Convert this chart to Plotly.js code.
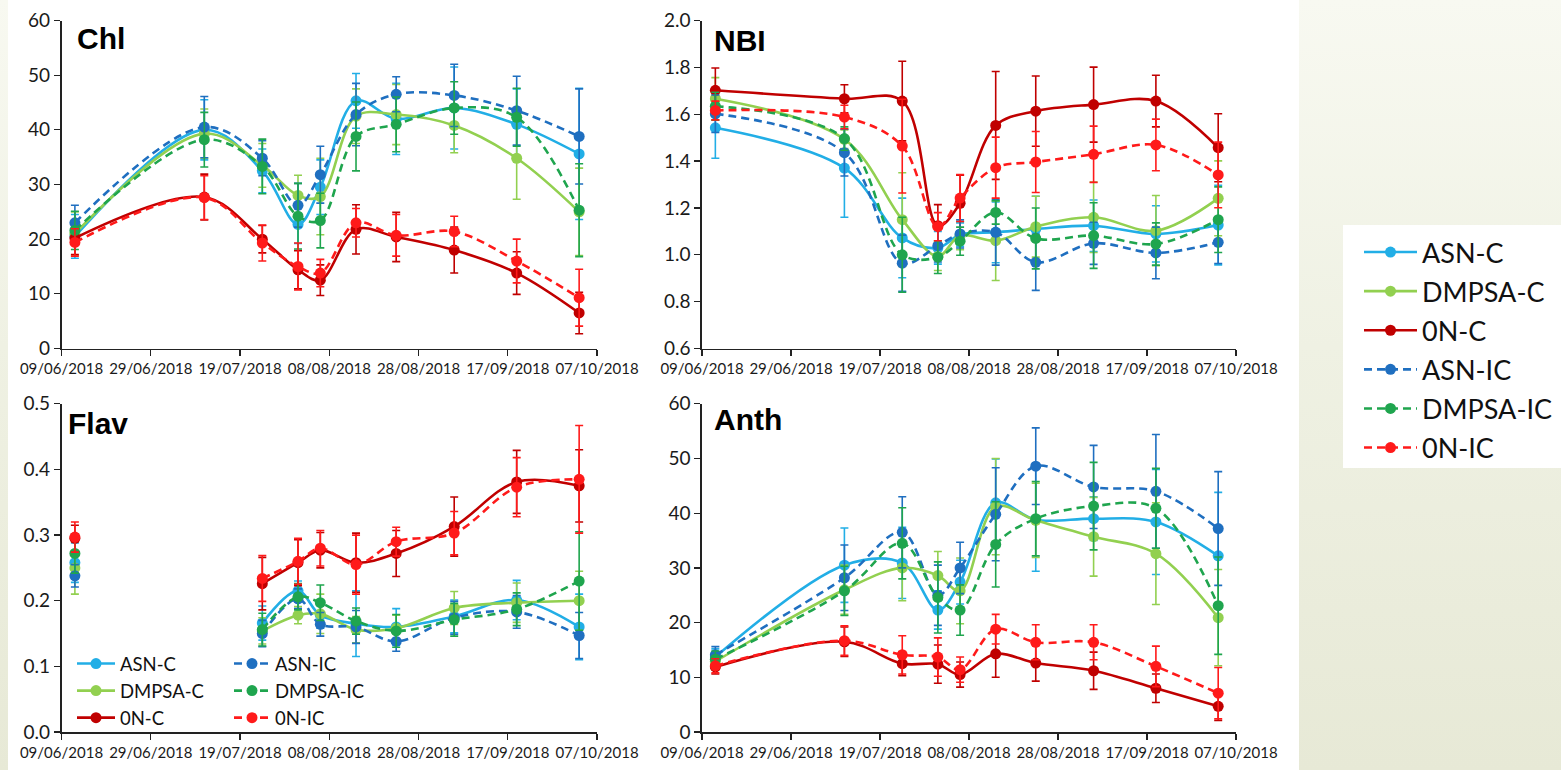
<!DOCTYPE html>
<html>
<head>
<meta charset="utf-8">
<script src="https://cdn.plot.ly/plotly-3.0.1.min.js"></script>
<style>
html,body{margin:0;padding:0;width:1561px;height:770px;overflow:hidden;
background:linear-gradient(180deg,#f8f9f1 0%,#eff1e3 45%,#e7e9d6 100%);}
#chart{width:1561px;height:770px;}
</style>
</head>
<body>
<div id="chart"></div>
<script>
// ---- data ----
const dates = ['2018-06-12','2018-07-11','2018-07-24','2018-08-01','2018-08-06','2018-08-14','2018-08-23','2018-09-05','2018-09-19','2018-10-03'];
const seriesNames = ['ASN-C','DMPSA-C','0N-C','ASN-IC','DMPSA-IC','0N-IC'];
const panelTitles = ['Chl','NBI','Flav','Anth'];
const tickDates = ['2018-06-09','2018-06-29','2018-07-19','2018-08-08','2018-08-28','2018-09-17','2018-10-07'];
const tickLabels = ['09/06/2018','29/06/2018','19/07/2018','08/08/2018','28/08/2018','17/09/2018','07/10/2018'];

// Chl
const chlASNC    = [20.5, 40.0, 32.5, 22.7, 29.5, 45.3, 42.0, 44.0, 41.0, 35.6];
const chlDMPSAC  = [21.0, 39.3, 33.5, 28.0, 27.8, 42.5, 42.8, 40.8, 34.8, 25.0];
const chl0NC     = [20.2, 27.7, 20.0, 14.4, 12.5, 21.8, 20.4, 18.0, 13.8, 6.5];
const chlASNIC   = [23.0, 40.5, 34.8, 26.2, 31.8, 42.8, 46.5, 46.3, 43.5, 38.8];
const chlDMPSAIC = [21.6, 38.2, 33.3, 24.2, 23.4, 38.8, 41.0, 44.0, 42.3, 25.3];
const chl0NIC    = [19.4, 27.6, 19.3, 15.0, 13.8, 23.0, 20.7, 21.4, 16.0, 9.3];
const chlASNCErr    = [4.0, 5.5, 4.0, 3.5, 5.0, 5.0, 6.5, 7.5, 6.5, 12.0];
const chlDMPSACErr  = [4.0, 4.5, 4.0, 3.7, 7.0, 5.0, 5.5, 5.0, 7.5, 8.0];
const chl0NCErr     = [3.0, 4.2, 2.5, 3.5, 2.8, 4.5, 4.5, 4.2, 3.9, 3.8];
const chlASNICErr   = [3.2, 5.6, 3.2, 4.0, 5.2, 5.7, 3.2, 5.7, 6.3, 8.7];
const chlDMPSAICErr = [3.5, 5.0, 5.0, 6.0, 5.0, 6.3, 5.0, 4.8, 5.3, 8.5];
const chl0NICErr    = [2.5, 4.0, 3.3, 4.3, 2.5, 2.6, 3.8, 2.8, 4.0, 5.2];

// NBI
const nbiASNC    = [1.542, 1.370, 1.072, 1.030, 1.086, 1.096, 1.110, 1.124, 1.089, 1.127];
const nbiDMPSAC  = [1.666, 1.493, 1.150, 0.993, 1.082, 1.060, 1.120, 1.160, 1.103, 1.241];
const nbi0NC     = [1.702, 1.666, 1.656, 1.124, 1.220, 1.552, 1.613, 1.641, 1.656, 1.457];
const nbiASNIC   = [1.602, 1.436, 0.964, 1.039, 1.089, 1.096, 0.968, 1.049, 1.008, 1.053];
const nbiDMPSAIC = [1.634, 1.496, 1.000, 0.990, 1.058, 1.181, 1.070, 1.082, 1.046, 1.150];
const nbi0NIC    = [1.616, 1.588, 1.464, 1.120, 1.242, 1.372, 1.396, 1.429, 1.469, 1.341];
const nbiASNCErr    = [0.13, 0.21, 0.17, 0.07, 0.05, 0.13, 0.14, 0.11, 0.12, 0.17];
const nbiDMPSACErr  = [0.09, 0.04, 0.20, 0.06, 0.06, 0.17, 0.13, 0.15, 0.15, 0.16];
const nbi0NCErr     = [0.095, 0.06, 0.17, 0.09, 0.12, 0.23, 0.15, 0.16, 0.11, 0.145];
const nbiASNICErr   = [0.08, 0.10, 0.12, 0.07, 0.06, 0.14, 0.12, 0.09, 0.11, 0.09];
const nbiDMPSAICErr = [0.06, 0.05, 0.16, 0.07, 0.06, 0.05, 0.13, 0.14, 0.09, 0.14];
const nbi0NICErr    = [0.04, 0.05, 0.20, 0.06, 0.10, 0.13, 0.13, 0.12, 0.11, 0.14];

// Flav (no reading on 11/07)
const flavASNC    = [0.258, null, 0.166, 0.215, 0.178, 0.165, 0.160, 0.176, 0.201, 0.160];
const flavDMPSAC  = [0.250, null, 0.154, 0.178, 0.180, 0.156, 0.158, 0.189, 0.197, 0.200];
const flav0NC     = [0.295, null, 0.226, 0.258, 0.277, 0.258, 0.272, 0.313, 0.381, 0.375];
const flavASNIC   = [0.238, null, 0.150, 0.203, 0.164, 0.160, 0.138, 0.174, 0.183, 0.147];
const flavDMPSAIC = [0.272, null, 0.156, 0.206, 0.197, 0.169, 0.154, 0.171, 0.187, 0.230];
const flav0NIC    = [0.297, null, 0.234, 0.260, 0.280, 0.255, 0.290, 0.303, 0.373, 0.385];
const flavASNCErr    = [0.030, null, 0.026, 0.015, 0.020, 0.050, 0.028, 0.025, 0.030, 0.050];
const flavDMPSACErr  = [0.040, null, 0.020, 0.013, 0.030, 0.020, 0.020, 0.025, 0.030, 0.045];
const flav0NCErr     = [0.020, null, 0.040, 0.035, 0.027, 0.045, 0.035, 0.045, 0.048, 0.055];
const flavASNICErr   = [0.017, null, 0.020, 0.015, 0.018, 0.025, 0.015, 0.025, 0.025, 0.035];
const flavDMPSAICErr = [0.030, null, 0.025, 0.020, 0.027, 0.020, 0.025, 0.025, 0.025, 0.075];
const flav0NICErr    = [0.023, null, 0.035, 0.035, 0.027, 0.045, 0.022, 0.033, 0.045, 0.082];

// Anth
const anthASNC    = [13.7, 30.5, 30.9, 22.3, 27.4, 41.9, 38.8, 39.0, 38.4, 32.2];
const anthDMPSAC  = [12.9, 26.0, 30.0, 28.6, 25.8, 41.2, 38.7, 35.7, 32.6, 20.9];
const anth0NC     = [11.9, 16.5, 12.5, 12.4, 10.5, 14.3, 12.6, 11.2, 8.0, 4.7];
const anthASNIC   = [14.1, 28.2, 36.5, 25.0, 30.0, 39.8, 48.6, 44.8, 44.0, 37.2];
const anthDMPSAIC = [13.3, 25.8, 34.5, 24.6, 22.3, 34.3, 39.0, 41.3, 40.9, 23.1];
const anth0NIC    = [12.1, 16.7, 14.1, 13.7, 11.4, 18.8, 16.4, 16.4, 12.0, 7.1];
const anthASNCErr    = [1.5, 6.8, 6.5, 3.5, 4.0, 8.0, 9.4, 4.0, 9.6, 11.6];
const anthDMPSACErr  = [1.5, 4.5, 6.0, 4.4, 6.0, 8.8, 6.8, 7.2, 9.3, 8.8];
const anth0NCErr     = [1.3, 2.7, 2.2, 3.5, 2.3, 4.3, 3.3, 3.4, 2.6, 2.6];
const anthASNICErr   = [1.5, 6.0, 6.5, 5.5, 4.7, 8.5, 7.0, 7.6, 10.4, 10.4];
const anthDMPSAICErr = [1.5, 4.5, 6.5, 6.5, 4.6, 7.8, 6.8, 8.0, 7.3, 8.9];
const anth0NICErr    = [1.3, 2.7, 3.5, 3.5, 2.3, 2.7, 3.2, 3.2, 3.7, 4.7];

// ---- styles ----
const colors = ['#22aee6','#92d050','#c00000','#1f6fc0','#1fa54e','#ff1a1a'];
const dashes = ['solid','solid','solid','8px,5px','8px,5px','8px,5px'];

const panels = [
  {xa:'x',  ya:'y',  vals:[chlASNC,chlDMPSAC,chl0NC,chlASNIC,chlDMPSAIC,chl0NIC],
   errs:[chlASNCErr,chlDMPSACErr,chl0NCErr,chlASNICErr,chlDMPSAICErr,chl0NICErr]},
  {xa:'x2', ya:'y2', vals:[nbiASNC,nbiDMPSAC,nbi0NC,nbiASNIC,nbiDMPSAIC,nbi0NIC],
   errs:[nbiASNCErr,nbiDMPSACErr,nbi0NCErr,nbiASNICErr,nbiDMPSAICErr,nbi0NICErr]},
  {xa:'x3', ya:'y3', vals:[flavASNC,flavDMPSAC,flav0NC,flavASNIC,flavDMPSAIC,flav0NIC],
   errs:[flavASNCErr,flavDMPSACErr,flav0NCErr,flavASNICErr,flavDMPSAICErr,flav0NICErr]},
  {xa:'x4', ya:'y4', vals:[anthASNC,anthDMPSAC,anth0NC,anthASNIC,anthDMPSAIC,anth0NIC],
   errs:[anthASNCErr,anthDMPSACErr,anth0NCErr,anthASNICErr,anthDMPSAICErr,anth0NICErr]}
];

const traces = [];
panels.forEach((p, pi) => {
  seriesNames.forEach((nm, si) => {
    const t = {
      type:'scatter', mode:'lines+markers', name:nm,
      x:dates, y:p.vals[si], xaxis:p.xa, yaxis:p.ya,
      connectgaps:false,
      line:{color:colors[si], width:2.6, dash:dashes[si], shape:'spline', smoothing:1},
      marker:{color:colors[si], size:11, symbol:'circle'},
      error_y:{type:'data', array:p.errs[si], visible:true, color:colors[si], thickness:1.6, width:4},
      showlegend:false, hoverinfo:'skip'
    };
    if (pi === 0) { t.showlegend = true; t.legend = 'legend'; t.legendgroup = 'g' + si; }
    if (pi === 2) { t.showlegend = true; t.legend = si < 3 ? 'legend2' : 'legend3'; }
    traces.push(t);
  });
});

const W = 1561, H = 770;
const xL = [61.5/W, 597/W], xR = [702/W, 1236/W];
const yT = [1-348.5/H, 1-20.5/H], yB = [1-732/H, 1-403.8/H];
const tickFontX = {family:'Lato, "Open Sans", sans-serif', size:15, color:'#1a1a1a'};
const tickFontY = {family:'Lato, "Open Sans", sans-serif', size:19, color:'#1a1a1a'};

function xax(domain, anchor){
  return {domain:domain, anchor:anchor, type:'date', range:[tickDates[0], tickDates[tickDates.length-1]],
    tickmode:'array', tickvals:tickDates, ticktext:tickLabels,
    ticks:'outside', ticklen:6, tickwidth:1.3, tickcolor:'#222',
    showline:true, linecolor:'#222', linewidth:1.6, showgrid:false, zeroline:false,
    tickfont:tickFontX, fixedrange:true};
}
function yax(domain, anchor, range, dtick, fmt){
  return {domain:domain, anchor:anchor, range:range, dtick:dtick, tick0:range[0], tickformat:fmt,
    ticks:'outside', ticklen:6, tickwidth:1.3, tickcolor:'#222',
    showline:true, linecolor:'#222', linewidth:1.6, showgrid:false, zeroline:false,
    tickfont:tickFontY, fixedrange:true};
}

const titleFont = {family:'Arial, "Liberation Sans", sans-serif', size:30, color:'#000', weight:'bold'};
const legendFontBig = {family:'Lato, "Open Sans", sans-serif', size:27, color:'#111'};
const legendFontSmall = {family:'Lato, "Open Sans", sans-serif', size:18.5, color:'#111'};

const layout = {
  width:W, height:H, autosize:false,
  margin:{l:0, r:0, t:0, b:0, pad:0},
  paper_bgcolor:'rgba(0,0,0,0)', plot_bgcolor:'rgba(0,0,0,0)',
  xaxis:xax(xL,'y'),  yaxis:yax(yT,'x',[0,60],10,'d'),
  xaxis2:xax(xR,'y2'), yaxis2:yax(yT,'x2',[0.6,2.0],0.2,'.1f'),
  xaxis3:xax(xL,'y3'), yaxis3:yax(yB,'x3',[0,0.5],0.1,'.1f'),
  xaxis4:xax(xR,'y4'), yaxis4:yax(yB,'x4',[0,60],10,'d'),
  shapes:[
    {type:'rect', xref:'paper', yref:'paper', x0:8/W, x1:1299/W, y0:0, y1:1,
     fillcolor:'#ffffff', line:{width:0}, layer:'below'},
    {type:'rect', xref:'paper', yref:'paper', x0:1343/W, x1:1, y0:1-468/H, y1:1-225/H,
     fillcolor:'#ffffff', line:{width:0}, layer:'below'}
  ],
  annotations:[
    {text:panelTitles[0], xref:'paper', yref:'paper', x:75/W, y:1-20/H, xanchor:'left', yanchor:'top', showarrow:false, font:titleFont},
    {text:panelTitles[1], xref:'paper', yref:'paper', x:712/W, y:1-22/H, xanchor:'left', yanchor:'top', showarrow:false, font:titleFont},
    {text:panelTitles[2], xref:'paper', yref:'paper', x:66/W, y:1-405/H, xanchor:'left', yanchor:'top', showarrow:false, font:titleFont},
    {text:panelTitles[3], xref:'paper', yref:'paper', x:712/W, y:1-401/H, xanchor:'left', yanchor:'top', showarrow:false, font:titleFont}
  ],
  legend:{x:1359/W, y:1-228/H, xanchor:'left', yanchor:'top', bgcolor:'rgba(0,0,0,0)',
    font:legendFontBig, tracegroupgap:1, itemwidth:53, borderwidth:0, orientation:'v'},
  legend2:{x:72/W, y:1-645/H, xanchor:'left', yanchor:'top', bgcolor:'rgba(0,0,0,0)',
    font:legendFontSmall, itemwidth:38, borderwidth:0, orientation:'v'},
  legend3:{x:229/W, y:1-645/H, xanchor:'left', yanchor:'top', bgcolor:'rgba(0,0,0,0)',
    font:legendFontSmall, itemwidth:36, borderwidth:0, orientation:'v'},
  showlegend:true
};

Plotly.newPlot('chart', traces, layout, {displayModeBar:false, staticPlot:true});
</script>
</body>
</html>
